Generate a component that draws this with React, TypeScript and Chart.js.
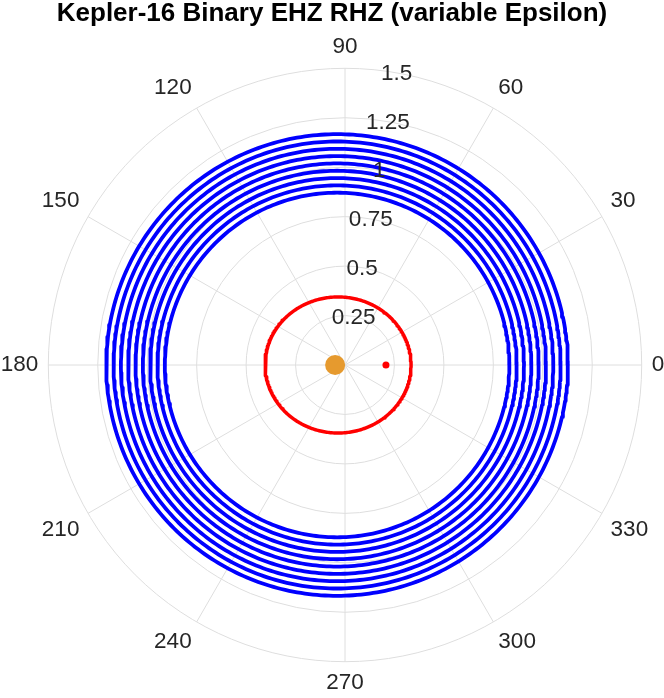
import React, { useEffect, useRef } from "react";
import { Chart, registerables } from "chart.js";

Chart.register(...registerables);

// ---------- data ----------
const TITLE = "Kepler-16 Binary EHZ RHZ (variable Epsilon)";
const angleTicks = [0, 30, 60, 90, 120, 150, 180, 210, 240, 270, 300, 330];
const angleTickLabels = ["0", "30", "60", "90", "120", "150", "180", "210", "240", "270", "300", "330"];
const radialTicks = [0.25, 0.5, 0.75, 1, 1.25, 1.5];
const radialTickLabels = ["0.25", "0.5", "0.75", "1", "1.25", "1.5"];
const rMax = 1.5;
const radialLabelAngle = 80;

// EHZ rings (blue)
const ehzRadii = [1.167, 1.13, 1.093, 1.056, 1.019, 0.982, 0.945, 0.908, 0.871];
const ehzCenterX = -0.04;
const ehzCenterY = 0;

// RHZ ring (red)
const rhzRadiusX = [0.369];
const rhzRadiusY = [0.344];
const rhzCenterX = -0.035;
const rhzCenterY = 0;

// stars (theta in degrees, r)
const starATheta = [180];
const starAR = [0.05];
const starBTheta = [0];
const starBR = [0.207];

// ---------- helpers ----------
const toRad = (d: number) => (d * Math.PI) / 180;
const sweep: number[] = [];
for (let a = 0; a <= 361; a += 1) sweep.push(a);

function ellipsePoints(cx: number, cy: number, rx: number, ry: number) {
  return sweep.map((a) => ({ x: cx + rx * Math.cos(toRad(a)), y: cy + ry * Math.sin(toRad(a)) }));
}
function polarPoints(thetas: number[], rs: number[]) {
  return thetas.map((t, i) => ({ x: rs[i] * Math.cos(toRad(t)), y: rs[i] * Math.sin(toRad(t)) }));
}

const FONT = "'Liberation Sans', Arial, Helvetica, sans-serif";
const TEXT = "#262626";
const GRID = "#DEDEDE";

const polarGrid = {
  id: "polarGrid",
  beforeDatasetsDraw(chart: any) {
    const { ctx, scales } = chart;
    const xs = scales.x, ys = scales.y;
    const cx = xs.getPixelForValue(0), cy = ys.getPixelForValue(0);
    const R = xs.getPixelForValue(rMax) - cx;
    ctx.save();
    ctx.strokeStyle = GRID;
    ctx.lineWidth = 1;
    radialTicks.forEach((r) => {
      const pr = xs.getPixelForValue(r) - cx;
      ctx.beginPath();
      ctx.arc(cx, cy, pr, 0, Math.PI * 2);
      ctx.stroke();
    });
    angleTicks.forEach((a) => {
      ctx.beginPath();
      ctx.moveTo(cx, cy);
      ctx.lineTo(cx + R * Math.cos(toRad(a)), cy - R * Math.sin(toRad(a)));
      ctx.stroke();
    });
    ctx.restore();
  },
  afterDatasetsDraw(chart: any) {
    const { ctx, scales } = chart;
    const xs = scales.x, ys = scales.y;
    const cx = xs.getPixelForValue(0), cy = ys.getPixelForValue(0);
    const R = xs.getPixelForValue(rMax) - cx;
    ctx.save();
    ctx.fillStyle = TEXT;
    ctx.font = `22.5px ${FONT}`;
    // angle labels
    angleTicks.forEach((a, i) => {
      const c = Math.cos(toRad(a)), s = Math.sin(toRad(a));
      const d = R + 10;
      const x = cx + d * c, y = cy - d * s;
      ctx.textAlign = c > 0.01 ? "left" : c < -0.01 ? "right" : "center";
      ctx.textBaseline = s > 0.01 ? "bottom" : s < -0.01 ? "top" : "middle";
      ctx.fillText(angleTickLabels[i], x, y);
    });
    // radial labels
    ctx.textAlign = "center";
    ctx.textBaseline = "middle";
    radialTicks.forEach((r, i) => {
      const pr = xs.getPixelForValue(r) - cx;
      const x = cx + pr * Math.cos(toRad(radialLabelAngle));
      const y = cy - pr * Math.sin(toRad(radialLabelAngle));
      ctx.fillText(radialTickLabels[i], x, y + 1);
    });
    // title
    ctx.font = `bold 26px ${FONT}`;
    ctx.fillStyle = "#000000";
    ctx.textAlign = "center";
    ctx.textBaseline = "alphabetic";
    ctx.fillText(TITLE, 332, 21);
    ctx.restore();
  },
};

export default function App() {
  const ref = useRef<HTMLCanvasElement | null>(null);
  useEffect(() => {
    if (!ref.current) return;
    const datasets: any[] = [];
    ehzRadii.forEach((r, i) => {
      datasets.push({
        label: `EHZ ${i + 1}`,
        data: ellipsePoints(ehzCenterX, ehzCenterY, r, r),
        showLine: true,
        borderColor: "#0000FF",
        borderWidth: 3.8,
        borderJoinStyle: "round",
        borderCapStyle: "round",
        pointRadius: 0,
        fill: false,
        tension: 0,
      });
    });
    datasets.push({
      label: "RHZ",
      data: ellipsePoints(rhzCenterX, rhzCenterY, rhzRadiusX[0], rhzRadiusY[0]),
      showLine: true,
      borderColor: "#FF0000",
      borderWidth: 3.5,
      borderJoinStyle: "round",
      borderCapStyle: "round",
      pointRadius: 0,
      fill: false,
      tension: 0,
    });
    datasets.push({
      label: "Star A",
      data: polarPoints(starATheta, starAR),
      showLine: false,
      pointRadius: 10,
      pointBackgroundColor: "#E69A2E",
      pointBorderWidth: 0,
    });
    datasets.push({
      label: "Star B",
      data: polarPoints(starBTheta, starBR),
      showLine: false,
      pointRadius: 3.5,
      pointBackgroundColor: "#FF0000",
      pointBorderWidth: 0,
    });
    const chart = new Chart(ref.current, {
      type: "scatter",
      data: { datasets },
      options: {
        animation: false,
        responsive: false,
        maintainAspectRatio: false,
        layout: { padding: { left: 48.3, right: 22.3, top: 68.3, bottom: 36.3 } },
        scales: {
          x: { type: "linear", min: -rMax, max: rMax, display: false },
          y: { type: "linear", min: -rMax, max: rMax, display: false },
        },
        plugins: { legend: { display: false }, tooltip: { enabled: false }, title: { display: false } },
      },
      plugins: [polarGrid],
    });
    return () => chart.destroy();
  }, []);
  return (
    <div style={{ position: "fixed", left: 0, top: 0, width: 664, height: 698, background: "#fff" }}>
      <canvas ref={ref} width={664} height={698} style={{ width: 664, height: 698 }} />
    </div>
  );
}
